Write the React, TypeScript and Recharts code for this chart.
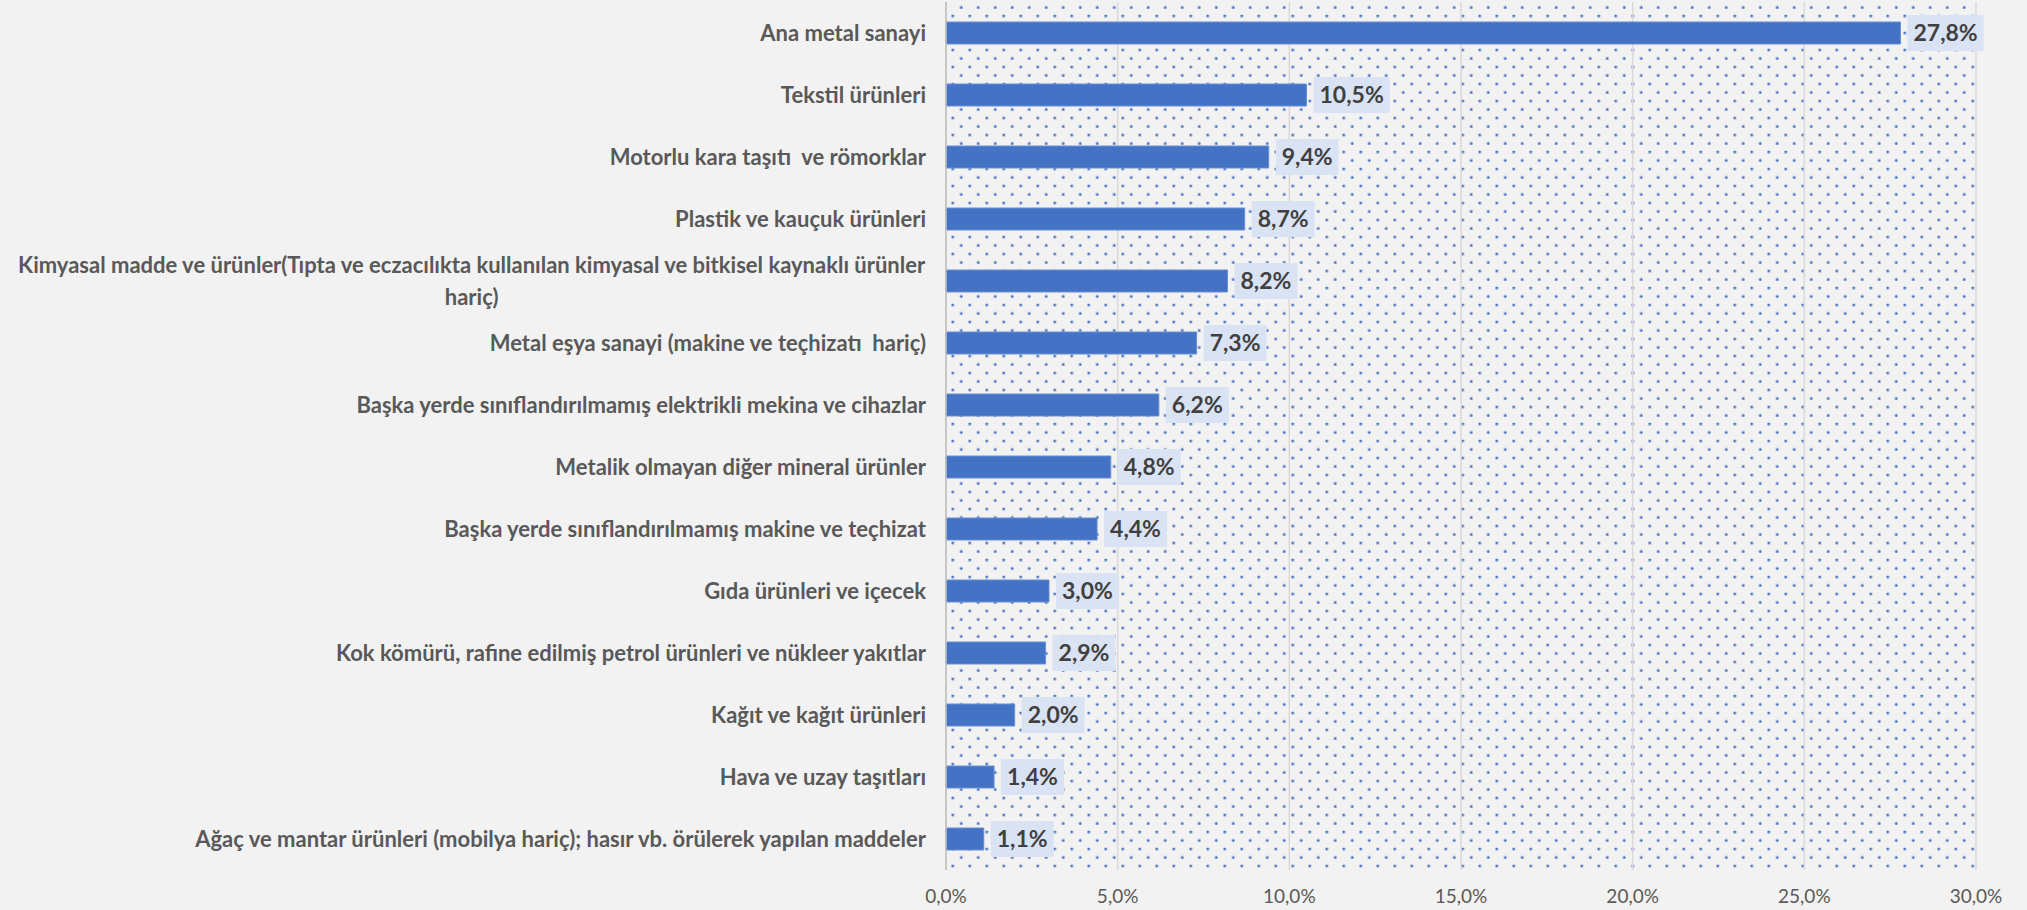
import { Bar, BarChart, CartesianGrid, LabelList, XAxis, YAxis } from "recharts"

// Sector shares, top to bottom as in the chart
const categories = [
  "Ana metal sanayi",
  "Tekstil ürünleri",
  "Motorlu kara taşıtı  ve römorklar",
  "Plastik ve kauçuk ürünleri",
  "Kimyasal madde ve ürünler(Tıpta ve eczacılıkta kullanılan kimyasal ve bitkisel kaynaklı ürünler\nhariç)",
  "Metal eşya sanayi (makine ve teçhizatı  hariç)",
  "Başka yerde sınıflandırılmamış elektrikli mekina ve cihazlar",
  "Metalik olmayan diğer mineral ürünler",
  "Başka yerde sınıflandırılmamış makine ve teçhizat",
  "Gıda ürünleri ve içecek",
  "Kok kömürü, rafine edilmiş petrol ürünleri ve nükleer yakıtlar",
  "Kağıt ve kağıt ürünleri",
  "Hava ve uzay taşıtları",
  "Ağaç ve mantar ürünleri (mobilya hariç); hasır vb. örülerek yapılan maddeler",
]

const shares = [27.8, 10.5, 9.4, 8.7, 8.2, 7.3, 6.2, 4.8, 4.4, 3.0, 2.9, 2.0, 1.4, 1.1]

const xTicks = [0, 5, 10, 15, 20, 25, 30]

const data = categories.map((name, i) => ({ name, value: shares[i] }))

const FONT = "Lato, 'Open Sans', sans-serif"
const fmt = (v: number) => v.toFixed(1).replace(".", ",") + "%"

let ctx: CanvasRenderingContext2D | null = null
function measure(text: string, font: string) {
  if (!ctx) ctx = document.createElement("canvas").getContext("2d")
  if (!ctx) return text.length * 11
  ctx.font = font
  return ctx.measureText(text).width
}

function CategoryTick(props: any) {
  const { x, y, payload } = props
  const lines: string[] = String(payload.value).split("\n")
  const style = { fontFamily: FONT, fontWeight: 700, fontSize: 22, fill: "#595959", whiteSpace: "pre" as const }
  if (lines.length === 1) {
    return (
      <text x={x} y={y} dy="0.35em" textAnchor="end" style={style}>
        {lines[0]}
      </text>
    )
  }
  const widths = lines.map((l) => measure(l, "bold 22px Lato"))
  const cx = x - Math.max(...widths) / 2
  return (
    <g>
      {lines.map((l, i) => (
        <text key={i} x={cx} y={y + (i - (lines.length - 1) / 2) * 32} dy="0.35em" textAnchor="middle" style={style}>
          {l}
        </text>
      ))}
    </g>
  )
}

function ValueLabel(props: any) {
  const { x, y, width, height, value } = props
  const text = fmt(Number(value))
  const w = measure(text, "bold 23px Lato") + 12
  const bx = x + width + 7
  const cy = y + height / 2
  return (
    <g>
      <rect x={bx} y={cy - 18} width={w} height={36} fill="#DAE3F3" />
      <text
        x={bx + w / 2}
        y={cy}
        dy="0.36em"
        textAnchor="middle"
        fontFamily={FONT}
        fontWeight={700}
        fontSize={23}
        fill="#404040"
      >
        {text}
      </text>
    </g>
  )
}

export default function App() {
  return (
    <div style={{ position: "absolute", left: 0, top: 0, width: 2027, height: 910, background: "#F2F2F2" }}>
      <BarChart
        width={2027}
        height={910}
        data={data}
        layout="vertical"
        margin={{ top: 2, right: 51, bottom: 0, left: 0 }}
        barSize={22}
      >
        <defs>
          <pattern id="dots" patternUnits="userSpaceOnUse" x={948.5} y={11.75} width={17} height={17}>
            <rect x={3} y={3} width={2.5} height={2.5} fill="#4472C4" />
            <rect x={11.5} y={11.5} width={2.5} height={2.5} fill="#4472C4" />
          </pattern>
        </defs>
        <CartesianGrid horizontal={false} stroke="#D9D9D9" strokeWidth={1.5} fill="url(#dots)" fillOpacity={1} />
        <XAxis
          type="number"
          domain={[0, 30]}
          ticks={xTicks}
          tickFormatter={fmt}
          axisLine={false}
          tickLine={false}
          tickSize={0}
          tickMargin={20}
          height={40}
          tick={{ fontFamily: FONT, fontSize: 19, fill: "#595959" }}
        />
        <YAxis
          type="category"
          dataKey="name"
          width={946}
          interval={0}
          axisLine={{ stroke: "#BFBFBF", strokeWidth: 1.5 }}
          tickLine={false}
          tickSize={0}
          tickMargin={20}
          tick={<CategoryTick />}
        />
        <Bar dataKey="value" fill="#4472C4" stroke="#6A8FD4" strokeWidth={1} isAnimationActive={false}>
          <LabelList dataKey="value" content={<ValueLabel />} />
        </Bar>
      </BarChart>
    </div>
  )
}
